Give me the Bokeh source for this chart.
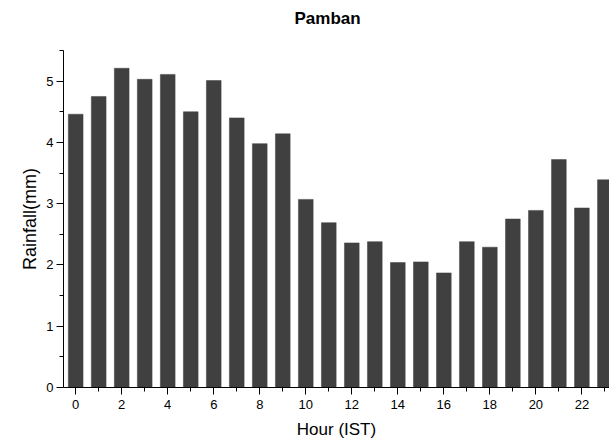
from bokeh.plotting import figure
from bokeh.models import Range1d, FixedTicker, Title
from bokeh.embed import file_html
from bokeh.resources import INLINE

# Mean hourly rainfall at Pamban
hours = list(range(24))
rainfall = [4.46, 4.75, 5.21, 5.03, 5.11, 4.50, 5.01, 4.40, 3.98, 4.14,
            3.07, 2.69, 2.36, 2.38, 2.04, 2.05, 1.87, 2.38, 2.29, 2.75,
            2.89, 3.72, 2.93, 3.39]
x_major = [0, 2, 4, 6, 8, 10, 12, 14, 16, 18, 20, 22]
x_minor = [1, 3, 5, 7, 9, 11, 13, 15, 17, 19, 21, 23]
y_major = [0, 1, 2, 3, 4, 5]
y_minor = [0.5, 1.5, 2.5, 3.5, 4.5, 5.5]

FONT = "Liberation Sans"
BAR = "#404040"

p = figure(width=609, height=442, output_backend="svg", toolbar_location=None,
           x_range=Range1d(-0.53, 23.2), y_range=Range1d(0, 5.5),
           min_border_left=63, min_border_right=0, min_border_top=50,
           min_border_bottom=55)

# blank line between the heading and the plot area
p.add_layout(Title(text=" ", text_font=FONT, text_font_size="6px"), "above")
p.add_layout(Title(text="Pamban", align="left", offset=231,
                   text_font=FONT, text_font_size="17px",
                   text_font_style="bold", text_color="black"), "above")

p.vbar(x=hours, top=rainfall, width=0.64, bottom=0,
       fill_color=BAR, line_color=BAR, line_width=0.5)

p.outline_line_color = None
p.background_fill_color = "white"
p.border_fill_color = "white"
p.xgrid.grid_line_color = None
p.ygrid.grid_line_color = None

xa = p.xaxis[0]
xa.ticker = FixedTicker(ticks=x_major, minor_ticks=x_minor)
xa.axis_label = "Hour (IST)"
ya = p.yaxis[0]
ya.ticker = FixedTicker(ticks=y_major, minor_ticks=y_minor)
ya.axis_label = "Rainfall(mm)"

for ax in (xa, ya):
    ax.axis_line_color = "black"
    ax.axis_line_width = 1
    ax.major_tick_line_color = "black"
    ax.minor_tick_line_color = "black"
    ax.major_tick_in = 0
    ax.major_tick_out = 7
    ax.minor_tick_in = 0
    ax.minor_tick_out = 4
    ax.major_label_text_font = FONT
    ax.major_label_text_font_size = "13px"
    ax.major_label_text_color = "black"
    ax.axis_label_text_font = FONT
    ax.axis_label_text_font_style = "normal"
    ax.axis_label_text_color = "black"

xa.major_label_standoff = 5
xa.axis_label_standoff = 8
xa.axis_label_text_font_size = "17px"
ya.major_label_standoff = 3
ya.axis_label_standoff = 3
ya.axis_label_text_font_size = "18px"

open("out.html", "w").write(file_html(p, INLINE))
